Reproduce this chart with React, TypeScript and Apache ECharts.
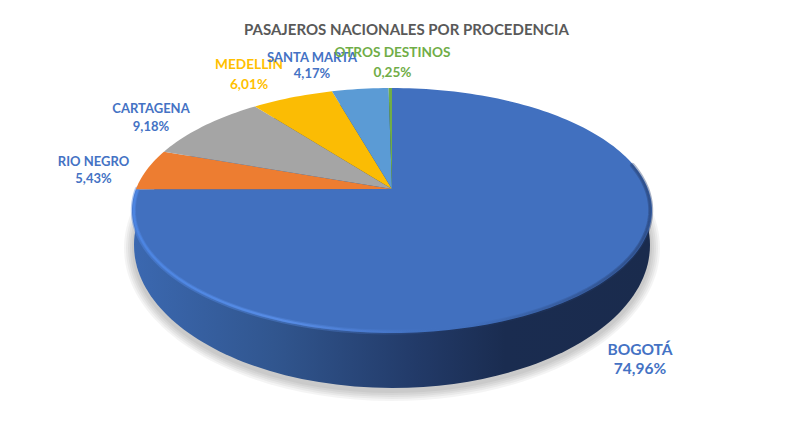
import React, { useEffect, useRef } from "react";
import * as echarts from "echarts";

const titleText = "PASAJEROS NACIONALES POR PROCEDENCIA";
const categories = ["BOGOTÁ", "RIO NEGRO", "CARTAGENA", "MEDELLIN", "SANTA MARTA", "OTROS DESTINOS"];
const shares = [74.96, 5.43, 9.18, 6.01, 4.17, 0.25];
const sliceColors = ["#4170BF", "#ED7D31", "#A5A5A5", "#FBBC04", "#5B9BD5", "#70AD47"];
const labelColors = ["#4472C4", "#4472C4", "#4472C4", "#FFC000", "#4472C4", "#70AD47"];
const labelCenters = [[640, 349, 368], [93.5, 161, 178], [151, 108, 126], [249, 63, 83], [312, 57, 73], [392.5, 52, 72]];
const labelSizes = [15.5, 13, 13, 13.7, 13, 13.6];

// Perspective projection of the pie's top face
const apexX = 392, apexY = 189, spreadX = 256, spreadY = 118.7, tilt = 0.1755;
const project = (deg: number, r = 1): number[] => {
  const a = (deg * Math.PI) / 180;
  const u = r * Math.sin(a), v = r * Math.cos(a);
  const d = 1 + tilt * v;
  return [apexX + (spreadX * u) / d, apexY - (spreadY * v) / d];
};
const arcPoints = (from: number, to: number, r = 1): number[][] => {
  const n = Math.max(2, Math.ceil(Math.abs(to - from) / 1.5));
  const pts: number[][] = [];
  for (let i = 0; i <= n; i++) pts.push(project(from + ((to - from) * i) / n, r));
  return pts;
};

const lg = (stops: [number, string][]) =>
  new echarts.graphic.LinearGradient(0, 0, 1, 0, stops.map(([offset, color]) => ({ offset, color })));

const rimLine = (lineWidth: number, r: number, stops: [number, string][]) => ({
  type: "polyline",
  shape: { points: arcPoints(270, 78, r) },
  style: { fill: "none", lineWidth, lineCap: "round", stroke: lg(stops) },
});

export default function App() {
  const ref = useRef<HTMLDivElement>(null);
  useEffect(() => {
    document.body.style.margin = "0";
    const chart = echarts.init(ref.current!, undefined, { renderer: "svg" });
    const total = shares.reduce((a, b) => a + b, 0);
    const starts: number[] = [];
    shares.reduce((acc, v, i) => ((starts[i] = acc), acc + v), 0);

    chart.setOption({
      animation: false,
      backgroundColor: "#fff",
      title: {
        text: titleText,
        left: 239,
        top: 16,
        textStyle: { color: "#595959", fontFamily: "Lato", fontWeight: "bold", fontSize: 15 },
      },
      series: [
        {
          type: "custom",
          coordinateSystem: "none",
          silent: true,
          data: shares,
          renderItem: (params: any, api: any) => {
            const i = params.dataIndex;
            const value = api.value(0) as number;
            const from = (starts[i] / total) * 360;
            const to = from + (value / total) * 360;
            const children: any[] = [];
            if (i === 0) {
              // soft drop shadow under the pie
              [10, 8, 6, 4, 2].forEach((grow) => {
                children.push({
                  type: "ellipse",
                  shape: { cx: 392, cy: 248, rx: 258 + grow, ry: 143 + grow },
                  style: { fill: "rgba(0,0,0,0.045)" },
                });
              });
              children.push({
                type: "ellipse",
                shape: { cx: 392, cy: 245, rx: 258, ry: 143 },
                style: {
                  fill: lg([
                    [0, "#3B68B0"],
                    [0.27, "#31568F"],
                    [0.55, "#223A68"],
                    [0.72, "#1A2C50"],
                    [1, "#1A2B4D"],
                  ]),
                },
              });
            }
            children.push({
              type: "polygon",
              shape: { points: [[apexX, apexY], ...arcPoints(from, to)] },
              style: { fill: sliceColors[i] },
            });
            if (i === 0) {
              children.push(
                rimLine(5, 0.995, [
                  [0, "rgba(80,135,228,0.45)"],
                  [0.35, "rgba(90,144,234,0.35)"],
                  [0.52, "rgba(80,130,220,0.12)"],
                  [0.6, "rgba(65,112,191,0)"],
                  [0.72, "rgba(40,68,120,0.12)"],
                  [1, "rgba(35,60,110,0.4)"],
                ]),
                rimLine(2, 0.993, [
                  [0, "rgba(76,134,228,0.9)"],
                  [0.3, "rgba(90,144,234,0.8)"],
                  [0.48, "rgba(80,130,220,0.3)"],
                  [0.58, "rgba(65,112,191,0)"],
                  [0.75, "rgba(45,75,130,0.2)"],
                  [1, "rgba(42,69,120,0.5)"],
                ]),
              );
            }
            const [lx, y1, y2] = labelCenters[i];
            const common = {
              fill: labelColors[i],
              fontFamily: "Lato",
              fontWeight: "bold",
              fontSize: labelSizes[i],
              align: "center",
              verticalAlign: "middle",
            };
            children.push({ type: "text", style: { ...common, text: categories[i], x: lx, y: y1 } });
            children.push({
              type: "text",
              style: { ...common, text: value.toFixed(2).replace(".", ",") + "%", x: lx, y: y2 },
            });
            return { type: "group", children };
          },
        },
      ],
    });
    return () => chart.dispose();
  }, []);
  return <div ref={ref} style={{ width: 790, height: 428 }} />;
}
